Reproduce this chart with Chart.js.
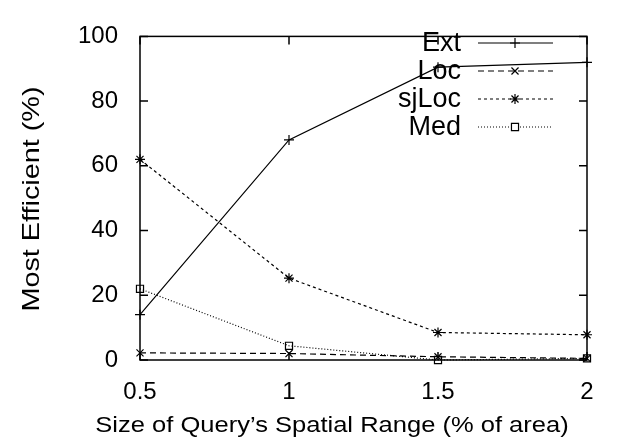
<!DOCTYPE html>
<html><head><meta charset="utf-8">
<script src="https://cdn.jsdelivr.net/npm/chart.js@4/dist/chart.umd.min.js"></script>
<style>html,body{margin:0;padding:0;background:#fff}#wrap{width:622px;height:447px}</style>
</head><body><div id="wrap"><canvas id="c" width="622" height="447"></canvas></div>
<script>
const xValues = [0.5, 1, 1.5, 2];
const extValues = [14, 68, 90.5, 92];
const locValues = [2.2, 2, 1, 0.5];
const sjLocValues = [62, 25.3, 8.5, 7.8];
const medValues = [22, 4.4, 0, 0.5];
const seriesNames = ['Ext', 'Loc', 'sjLoc', 'Med'];
const yTicks = [0, 20, 40, 60, 80, 100];
const xTicks = [0.5, 1, 1.5, 2];
const xTitle = "Size of Query\u2019s Spatial Range (% of area)";
const yTitle = 'Most Efficient (%)';

const FONT = 'Liberation Sans, Arial, Helvetica, sans-serif';
const toPts = v => xValues.map((x, i) => ({x: x, y: v[i]}));
const styles = [
  {dash: [], point: 'cross'},
  {dash: [6, 4], point: 'crossRot'},
  {dash: [3, 3], point: 'star'},
  {dash: [1, 2], point: 'rect'}
];
const allValues = [extValues, locValues, sjLocValues, medValues];
const datasets = allValues.map((v, i) => ({
  label: seriesNames[i], data: toPts(v),
  borderColor: '#000', borderWidth: 1.2, borderDash: styles[i].dash,
  pointStyle: styles[i].point, pointRadius: 5, pointBorderWidth: 1.2,
  pointBorderColor: '#000', pointBackgroundColor: 'rgba(255,255,255,0)',
  tension: 0, clip: false
}));

const framePlugin = {
  id: 'frame',
  afterDraw(chart) {
    const ctx = chart.ctx, a = chart.chartArea;
    const xs = chart.scales.x, ys = chart.scales.y;
    ctx.save();
    ctx.strokeStyle = '#000'; ctx.lineWidth = 1.5; ctx.setLineDash([]);
    ctx.strokeRect(a.left, a.top, a.right - a.left, a.bottom - a.top);
    const L = 8;
    ctx.beginPath();
    yTicks.forEach(t => {
      const py = ys.getPixelForValue(t);
      ctx.moveTo(a.left, py); ctx.lineTo(a.left + L, py);
      ctx.moveTo(a.right, py); ctx.lineTo(a.right - L, py);
    });
    xTicks.forEach(t => {
      const px = xs.getPixelForValue(t);
      ctx.moveTo(px, a.bottom); ctx.lineTo(px, a.bottom - L);
      ctx.moveTo(px, a.top); ctx.lineTo(px, a.top + L);
    });
    ctx.stroke();
    // legend
    ctx.font = '27px ' + FONT;
    ctx.fillStyle = '#000'; ctx.textAlign = 'right'; ctx.textBaseline = 'middle';
    const rowY = [43, 71, 99, 127];
    chart.data.datasets.forEach((ds, i) => {
      const y = rowY[i];
      ctx.fillStyle = '#000';
      ctx.fillText(ds.label, 461, y + 1);
      ctx.lineWidth = 1.2;
      ctx.setLineDash(ds.borderDash);
      ctx.beginPath(); ctx.moveTo(478, y); ctx.lineTo(553, y); ctx.stroke();
      ctx.setLineDash([]);
      ctx.fillStyle = '#fff';
      Chart.helpers.drawPoint(ctx, {pointStyle: ds.pointStyle, radius: 5, rotation: 0, borderWidth: 1.2}, 515, y);
    });
    // axis titles
    ctx.fillStyle = '#000';
    ctx.textAlign = 'center'; ctx.textBaseline = 'alphabetic';
    ctx.save();
    ctx.font = '22px ' + FONT;
    ctx.translate(332, 432);
    ctx.scale(1.16, 1);
    ctx.fillText(xTitle, 0, 0);
    ctx.restore();
    ctx.save();
    ctx.font = '24px ' + FONT;
    ctx.translate(39, 199);
    ctx.rotate(-Math.PI / 2);
    ctx.scale(1.2, 1);
    ctx.fillText(yTitle, 0, 0);
    ctx.restore();
    ctx.restore();
  }
};

new Chart(document.getElementById('c'), {
  type: 'line',
  data: {datasets},
  options: {
    responsive: false, animation: false,
    layout: {padding: {left: 0, top: 20, right: 35, bottom: 0}},
    plugins: {legend: {display: false}, tooltip: {enabled: false}},
    scales: {
      x: {
        type: 'linear', min: 0.5, max: 2,
        afterBuildTicks: s => { s.ticks = xTicks.map(v => ({value: v})); },
        afterFit: s => { s.height = 87; },
        grid: {display: false, drawTicks: false},
        border: {display: false},
        ticks: {color: '#000', font: {family: FONT, size: 24}, padding: 18, maxRotation: 0,
          callback: v => String(v)},
        title: {display: false}
      },
      y: {
        min: 0, max: 100,
        afterBuildTicks: s => { s.ticks = yTicks.map(v => ({value: v})); },
        afterFit: s => { s.width = 140; },
        grid: {display: false, drawTicks: false},
        border: {display: false},
        ticks: {color: '#000', font: {family: FONT, size: 24}, padding: 22},
        title: {display: false}
      }
    }
  },
  plugins: [framePlugin]
});
</script>
</body></html>
